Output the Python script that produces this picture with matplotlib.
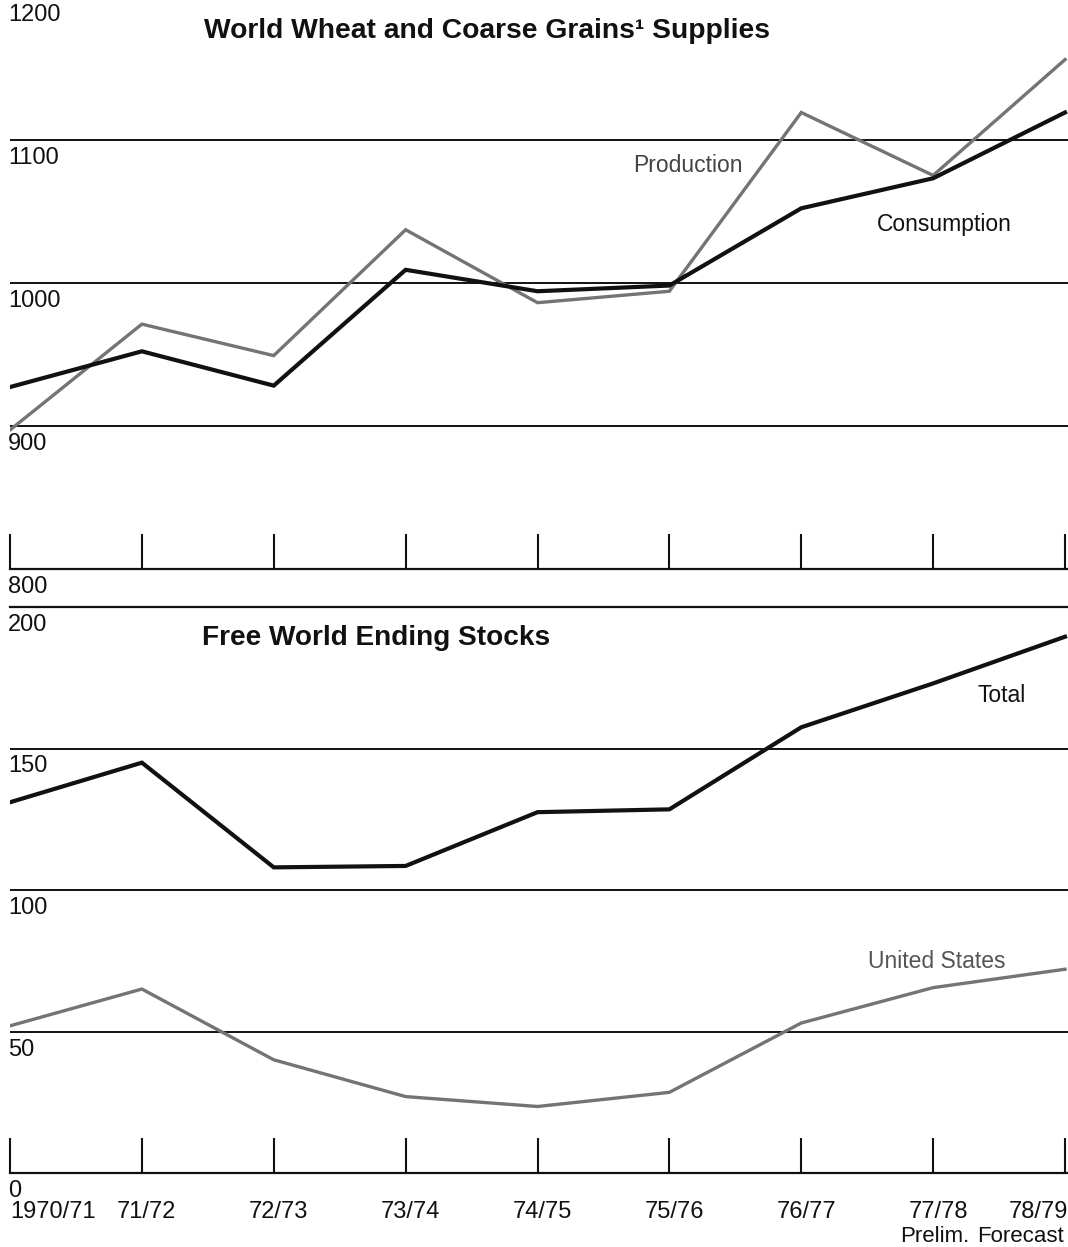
import matplotlib
matplotlib.use("Agg")
import matplotlib.pyplot as plt
import matplotlib.transforms as mtransforms

# ---------------- data ----------------
seasons = ["1970/71", "71/72", "72/73", "73/74", "74/75", "75/76", "76/77", "77/78", "78/79"]
production = [897, 971, 949, 1037, 986, 994, 1119, 1075, 1156]
consumption = [927, 952, 928, 1009, 994, 998, 1052, 1073, 1119]
total_stocks = [131, 145, 108, 108.5, 127.5, 128.5, 157.5, 173, 189.5]
us_stocks = [52, 65, 40, 27, 23.5, 28.5, 53, 65.5, 72]

top_ticks = [800, 900, 1000, 1100, 1200]
bottom_ticks = [0, 50, 100, 150, 200]

plt.rcParams['font.family'] = ['Liberation Sans', 'DejaVu Sans']

W, H = 1068, 1247
fig = plt.figure(figsize=(W / 100, H / 100), dpi=100)

BLACK = '#111111'
GRAY = '#747474'
x = list(range(len(seasons)))
xmax = 8 * 1058 / 1055

# top panel
ax1 = fig.add_axes([10 / W, 1 - 568.67 / H, 1058 / W, 568.67 / H])
ax1.set_ylim(800, 800 + 568.67 / 1.43)
# bottom panel
ax2 = fig.add_axes([10 / W, 1 - 1173 / H, 1058 / W, (1173 - 607) / H])
ax2.set_ylim(0, 200)

for ax, ticks in ((ax1, top_ticks), (ax2, bottom_ticks)):
    ax.set_xlim(0, xmax)
    ax.patch.set_alpha(0)
    for s in ('left', 'right'):
        ax.spines[s].set_visible(False)
    ax.spines['bottom'].set_linewidth(1.6)
    ax.spines['bottom'].set_color(BLACK)
    ax.set_yticks([])
    ax.set_xticks(x)
    ax.tick_params(axis='x', direction='in', length=25, width=1.5,
                   color=BLACK, labelbottom=False)
    for v in ticks[1:-1]:
        ax.axhline(v, color=BLACK, lw=1.4, zorder=1)
    trans = mtransforms.blended_transform_factory(ax.transAxes, ax.transData)
    trans = mtransforms.offset_copy(trans, fig=fig, x=-2, y=-18, units='dots')
    for v in ticks:
        ax.text(0, v, str(v), transform=trans, ha='left', va='center',
                fontsize=17, color=BLACK, clip_on=False)

ax1.spines['top'].set_visible(False)
ax2.spines['top'].set_linewidth(1.6)
ax2.spines['top'].set_color(BLACK)

ax1.plot(x, production, color=GRAY, lw=2.4, zorder=3, solid_joinstyle='miter')
ax1.plot(x, consumption, color=BLACK, lw=3.0, zorder=4, solid_joinstyle='miter')
ax2.plot(x, total_stocks, color=BLACK, lw=3.0, zorder=4, solid_joinstyle='miter')
ax2.plot(x, us_stocks, color=GRAY, lw=2.4, zorder=3, solid_joinstyle='miter')

def ftext(px, py, s, **kw):
    fig.text(px / W, 1 - py / H, s, **kw)

ftext(204, 31, "World Wheat and Coarse Grains\u00b9 Supplies", ha='left', va='center',
      fontsize=20.3, fontweight='bold', color=BLACK)
ftext(202, 638, "Free World Ending Stocks", ha='left', va='center',
      fontsize=20.2, fontweight='bold', color=BLACK)

ftext(633, 166, "Production", ha='left', va='center', fontsize=16.5, color='#444444')
ftext(877, 224, "Consumption", ha='left', va='center', fontsize=16.5, color=BLACK)
ftext(977, 696, "Total", ha='left', va='center', fontsize=16.5, color=BLACK)
ftext(868, 962, "United States", ha='left', va='center', fontsize=16.5, color='#555555')

# x labels
tx = mtransforms.blended_transform_factory(ax2.transData, fig.transFigure)
for i, lab in enumerate(seasons):
    if i == 0:
        t = mtransforms.offset_copy(tx, fig=fig, x=0, y=0, units='dots')
        ax2.text(i, 1 - 1212 / H, lab, transform=t, ha='left', va='center',
                 fontsize=17, color=BLACK, clip_on=False)
    elif i == len(seasons) - 1:
        t = mtransforms.offset_copy(tx, fig=fig, x=-56, y=0, units='dots')
        ax2.text(i, 1 - 1212 / H, lab, transform=t, ha='left', va='center',
                 fontsize=17, color=BLACK, clip_on=False)
    else:
        t = mtransforms.offset_copy(tx, fig=fig, x=5, y=0, units='dots')
        ax2.text(i, 1 - 1212 / H, lab, transform=t, ha='center', va='center',
                 fontsize=17, color=BLACK, clip_on=False)

t = mtransforms.offset_copy(tx, fig=fig, x=-33, y=0, units='dots')
ax2.text(7, 1 - 1237 / H, "Prelim.", transform=t, ha='left', va='center',
         fontsize=16, color=BLACK, clip_on=False)
t = mtransforms.offset_copy(tx, fig=fig, x=-1, y=0, units='dots')
ax2.text(8, 1 - 1237 / H, "Forecast", transform=t, ha='right', va='center',
         fontsize=16, color=BLACK, clip_on=False)

fig.savefig("out.png", dpi=100)
